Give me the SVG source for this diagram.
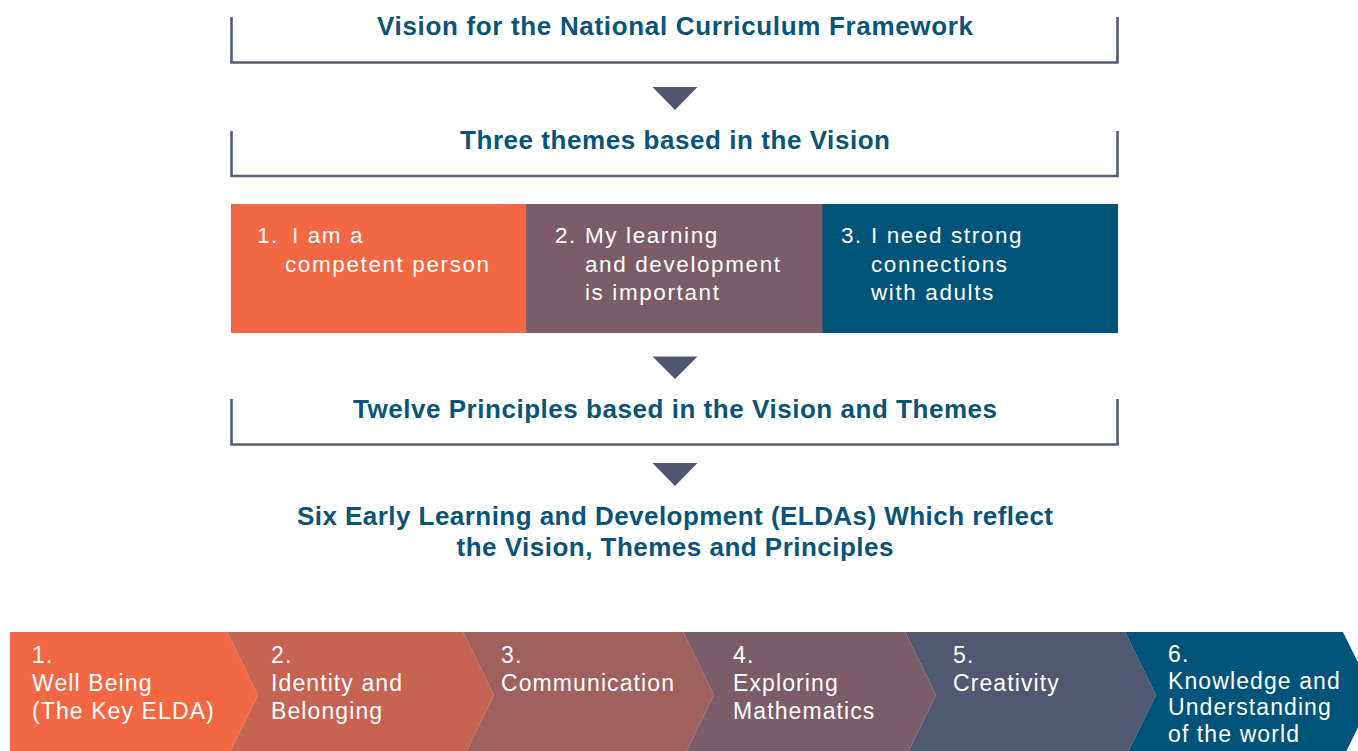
<svg xmlns="http://www.w3.org/2000/svg" width="1358" height="751" viewBox="0 0 1358 751">
<style>
.frame{fill:none;stroke:#565C78;stroke-width:2.6}
.head{font-family:"Liberation Sans",Arial,sans-serif;font-weight:bold;font-size:26px;fill:#0A5478;text-anchor:middle}
.theme{font-family:"Liberation Sans",Arial,sans-serif;font-size:22.5px;fill:#ffffff;letter-spacing:1.6px}
.elda{font-family:"Liberation Sans",Arial,sans-serif;font-size:23px;fill:#ffffff;letter-spacing:1.1px}
.arrow{fill:#50566F}
</style>
<rect width="1358" height="751" fill="#ffffff"/>

<g id="vision">
<path class="frame" d="M231.5,17 V62.5 H1117.5 V17"/>
<text class="head" x="675" y="35" textLength="596" lengthAdjust="spacing">Vision for the National Curriculum Framework</text>
</g>

<g id="themes-heading">
<path class="frame" d="M231.5,131 V176 H1117.5 V131"/>
<text class="head" x="675" y="149" textLength="430" lengthAdjust="spacing">Three themes based in the Vision</text>
</g>

<g id="theme1">
<rect x="231" y="204" width="295.5" height="129" fill="#F26845"/>
<text class="theme"><tspan x="257" y="243">1.</tspan> <tspan x="292" y="243">I am a</tspan><tspan x="285" y="271.5">competent person</tspan></text>
</g>
<g id="theme2">
<rect x="526" y="204" width="297" height="129" fill="#7A5D69"/>
<text class="theme"><tspan x="555" y="243">2.</tspan> <tspan x="585" y="243">My learning</tspan><tspan x="585" y="271.5">and development</tspan><tspan x="585" y="300">is important</tspan></text>
</g>
<g id="theme3">
<rect x="822.5" y="204" width="295.5" height="129" fill="#00547A"/>
<text class="theme"><tspan x="841" y="243">3.</tspan> <tspan x="871" y="243">I need strong</tspan><tspan x="871" y="271.5">connections</tspan><tspan x="871" y="300">with adults</tspan></text>
</g>

<g id="principles">
<path class="frame" d="M231.5,399 V444.5 H1117.5 V399"/>
<text class="head" x="675" y="418" textLength="644" lengthAdjust="spacing">Twelve Principles based in the Vision and Themes</text>
</g>

<g id="eldas-heading">
<text class="head" x="675" y="525" textLength="756" lengthAdjust="spacing">Six Early Learning and Development (ELDAs) Which reflect</text>
<text class="head" x="675" y="556" textLength="437" lengthAdjust="spacing">the Vision, Themes and Principles</text>
</g>

<g id="connectors">
<polygon class="arrow" points="652.5,87 697.5,87 675,110"/>
<polygon class="arrow" points="652.5,356.5 697.5,356.5 675,379"/>
<polygon class="arrow" points="652.5,463 697.5,463 675,486"/>
</g>

<g id="elda1">
<polygon points="10,632 227,632 258,695 227,758 10,758" fill="#F26845"/>
<text class="elda"><tspan x="32" y="663">1.</tspan><tspan x="32" y="691">Well Being</tspan><tspan x="32" y="719">(The Key ELDA)</tspan></text>
</g>
<g id="elda2">
<polygon points="227,632 463,632 494,695 463,758 227,758 258,695" fill="#C66452"/>
<text class="elda"><tspan x="271" y="663">2.</tspan><tspan x="271" y="691">Identity and</tspan><tspan x="271" y="719">Belonging</tspan></text>
</g>
<g id="elda3">
<polygon points="463,632 683,632 714,695 683,758 463,758 494,695" fill="#A0605D"/>
<text class="elda"><tspan x="501" y="663">3.</tspan><tspan x="501" y="691">Communication</tspan></text>
</g>
<g id="elda4">
<polygon points="683,632 905,632 936,695 905,758 683,758 714,695" fill="#7B5C69"/>
<text class="elda"><tspan x="733" y="663">4.</tspan><tspan x="733" y="691">Exploring</tspan><tspan x="733" y="719">Mathematics</tspan></text>
</g>
<g id="elda5">
<polygon points="905,632 1125,632 1156,695 1125,758 905,758 936,695" fill="#52586F"/>
<text class="elda"><tspan x="953" y="663">5.</tspan><tspan x="953" y="691">Creativity</tspan></text>
</g>
<g id="elda6">
<polygon points="1125,632 1343,632 1374,695 1343,758 1125,758 1156,695" fill="#00547A"/>
<text class="elda"><tspan x="1168" y="662">6.</tspan><tspan x="1168" y="688.5">Knowledge and</tspan><tspan x="1168" y="715">Understanding</tspan><tspan x="1168" y="742">of the world</tspan></text>
</g>
</svg>
